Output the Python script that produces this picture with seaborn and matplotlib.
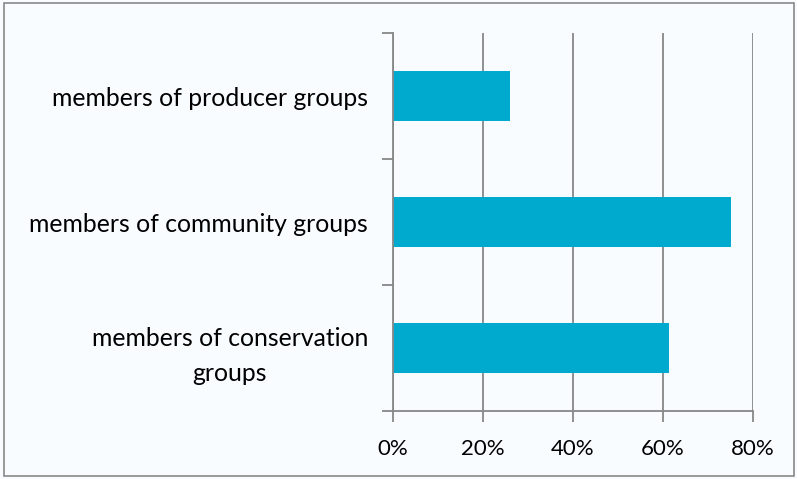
import matplotlib
matplotlib.use("Agg")
import matplotlib.pyplot as plt
import seaborn as sns
import pandas as pd
from matplotlib.patches import Rectangle
from matplotlib.ticker import FixedLocator, PercentFormatter

categories = ["members of producer groups", "members of community groups", "members of conservation\ngroups"]
values = [26.0, 75.0, 61.3]
xticks = [0, 20, 40, 60, 80]

df = pd.DataFrame({"cat": categories, "val": values})

sns.set_style("white")
plt.rcParams['font.family'] = ['Lato', 'DejaVu Sans']

bg = "#F8FCFE"
fig = plt.figure(figsize=(7.97, 4.79), dpi=100, facecolor=bg)
ax = fig.add_axes([393/797, 1-411/479, 360/797, 378/479])
ax.set_facecolor(bg)

sns.barplot(data=df, x="val", y="cat", order=categories, color="#00AACE",
            width=0.4, orient="h", ax=ax, saturation=1, linewidth=0)

ax.set_xlim(0, 80)
ax.set_ylim(2.5, -0.5)
ax.set_xticks(xticks)
ax.xaxis.set_major_formatter(PercentFormatter(decimals=0))
ax.grid(axis="x", color="#878787", linewidth=1.3)
ax.set_axisbelow(True)
ax.set_xlabel("")
ax.set_ylabel("")
for s in ["top", "right"]:
    ax.spines[s].set_visible(False)
for s in ["left", "bottom"]:
    ax.spines[s].set_color("#878787")
    ax.spines[s].set_linewidth(1.3)

ax.tick_params(axis="x", which="major", length=8, width=1.3, color="#878787",
               labelsize=16, pad=12, direction="out", bottom=True)
ax.tick_params(axis="y", which="major", length=0, labelsize=17.8, pad=18)
ax.yaxis.set_minor_locator(FixedLocator([-0.5, 0.5, 1.5, 2.5]))
ax.tick_params(axis="y", which="minor", length=8, width=1.3, color="#878787",
               direction="out", left=True)
for lbl in ax.get_yticklabels():
    lbl.set_multialignment("center")
    lbl.set_linespacing(1.65)
    lbl.set_color("#000000")
for lbl in ax.get_xticklabels():
    lbl.set_color("#000000")

fig.patches.append(Rectangle((4/797, 3/479), 790/797, 473/479, transform=fig.transFigure,
                             fill=False, edgecolor="#888888", linewidth=1.2))

fig.savefig("out.png", dpi=100, facecolor=bg)
